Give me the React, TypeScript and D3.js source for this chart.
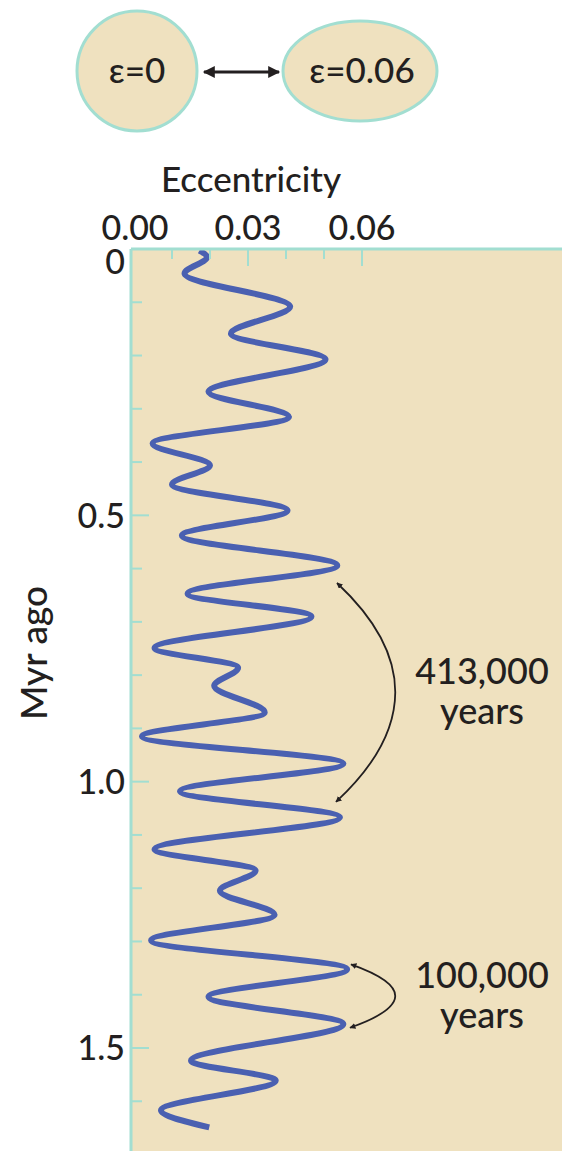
import React from 'react';
import * as d3 from 'd3';

// turning points of the eccentricity curve
const ageMyr = [
  0.003, 0.015, 0.046, 0.108, 0.159, 0.207, 0.268, 0.315, 0.365, 0.406,
  0.442, 0.491, 0.538, 0.594, 0.647, 0.69, 0.749, 0.786, 0.82, 0.87,
  0.915, 0.966, 1.018, 1.067, 1.127, 1.167, 1.205, 1.25, 1.298, 1.352,
  1.404, 1.455, 1.524, 1.561, 1.617, 1.649,
];
const eccentricity = [
  0.0172, 0.0192, 0.0133, 0.0411, 0.0255, 0.0504, 0.0196, 0.0408, 0.0049, 0.02,
  0.01, 0.0404, 0.0126, 0.0535, 0.0141, 0.0467, 0.0054, 0.0274, 0.0211, 0.0344,
  0.0021, 0.0551, 0.0121, 0.0542, 0.0054, 0.032, 0.0226, 0.037, 0.0045, 0.0561,
  0.0196, 0.0551, 0.015, 0.0373, 0.0071, 0.0198,
];

const xTicks = [0.01, 0.02, 0.03, 0.04, 0.05, 0.06];
const xLabels = ['0.00', '0.03', '0.06'];
const yTicks = [0.1, 0.2, 0.3, 0.4, 0.5, 0.6, 0.7, 0.8, 0.9, 1.0, 1.1, 1.2, 1.3, 1.4, 1.5, 1.6];
const yLabels = ['0', '0.5', '1.0', '1.5'];

// annotated cycles: [from age, to age, label]
const cycles: [number, number, string][] = [
  [0.627, 1.038, '413,000'],
  [1.343, 1.462, '100,000'],
];

const W = 562, H = 1151;
const FONT = 'Lato, "Open Sans", sans-serif';
const INK = '#231f20';
const TEAL = '#a2ded1';
const SAND = '#efe1bf';
const BLUE = '#4a60b1';

export default function App() {
  const x = d3.scaleLinear().domain([0, 0.06]).range([134, 362]);
  const y = d3.scaleLinear().domain([0, 1.5]).range([249, 1048]);
  const left = 131, top = 249;

  const pts = ageMyr.map((a, i) => [eccentricity[i], a] as [number, number]);
  const line = d3.line<[number, number]>()
    .x(d => x(d[0]))
    .y(d => y(d[1]))
    .curve(d3.curveMonotoneY);

  const major = (v: number) => Math.abs(v * 2 - Math.round(v * 2)) < 1e-6;

  return (
    <svg width={W} height={H} style={{ position: 'absolute', left: 0, top: 0 }} fontFamily={FONT} fontWeight={500}>
      <defs>
        <marker id="ah" viewBox="0 0 10 10" refX="9" refY="5" markerWidth="6" markerHeight="6" orient="auto-start-reverse" markerUnits="userSpaceOnUse">
          <path d="M0,0 L10,5 L0,10 z" fill={INK} />
        </marker>
        <marker id="big" viewBox="0 0 10 10" refX="9" refY="5" markerWidth="14" markerHeight="12" orient="auto-start-reverse" markerUnits="userSpaceOnUse">
          <path d="M0,0 L10,5 L0,10 z" fill={INK} />
        </marker>
      </defs>

      {/* orbit shapes */}
      <circle cx={137} cy={71} r={60} fill={SAND} stroke={TEAL} strokeWidth={3} />
      <ellipse cx={360} cy={71} rx={77} ry={50} fill={SAND} stroke={TEAL} strokeWidth={3} />
      <text x={137} y={83} textAnchor="middle" fontSize={35} fill={INK}>ε=0</text>
      <text x={362} y={83} textAnchor="middle" fontSize={35} fill={INK}>ε=0.06</text>
      <line x1={204} x2={279} y1={72} y2={72} stroke={INK} strokeWidth={3}
        markerStart="url(#big)" markerEnd="url(#big)" />

      {/* plot background */}
      <rect x={left} y={top} width={W - left} height={H - top} fill={SAND} />

      {/* curve */}
      <path d={line(pts) || ''} fill="none" stroke={BLUE} strokeWidth={6} />

      {/* axes */}
      <line x1={left} x2={W} y1={top} y2={top} stroke={TEAL} strokeWidth={3} />
      <line x1={left} x2={left} y1={top} y2={H} stroke={TEAL} strokeWidth={3} />
      {xTicks.map(t => (
        <line key={'xt' + t} x1={x(t)} x2={x(t)} y1={top} y2={top + (Math.abs(t - 0.03) < 1e-6 || Math.abs(t - 0.06) < 1e-6 ? 17 : 10)}
          stroke={TEAL} strokeWidth={2} />
      ))}
      {yTicks.map(t => (
        <line key={'yt' + t} x1={left} x2={left + (major(t) ? 18 : 11)} y1={y(t)} y2={y(t)}
          stroke={TEAL} strokeWidth={2} />
      ))}

      {xLabels.map(l => (
        <text key={'xl' + l} x={+l === 0 ? 135 : x(+l)} y={240} textAnchor="middle" fontSize={34} fill={INK}>{l}</text>
      ))}
      {yLabels.map(l => (
        <text key={'yl' + l} x={125} y={+l === 0 ? y(0) + 13 : y(+l)} dy="0.36em" textAnchor="end" fontSize={34} fill={INK}>{l}</text>
      ))}

      <text x={251} y={192} textAnchor="middle" fontSize={35} fill={INK}>Eccentricity</text>
      <text transform="translate(47,653) rotate(-90)" textAnchor="middle" fontSize={37} fill={INK}>Myr ago</text>

      {/* cycle annotations */}
      {cycles.map(([a0, a1, lab], i) => {
        const y0 = y(a0), y1 = y(a1);
        const xs = i === 0 ? 337 : 351;
        const bulge = i === 0 ? 454 : 440;
        const ym = (y0 + y1) / 2;
        return (
          <g key={lab}>
            <path d={`M${xs},${y0} Q${bulge},${ym} ${xs - 1},${y1}`} fill="none" stroke={INK} strokeWidth={1.8}
              markerStart="url(#ah)" markerEnd="url(#ah)" />
            <text x={482} y={ym - 8} textAnchor="middle" fontSize={36} fill={INK}>{lab}</text>
            <text x={482} y={ym + 32} textAnchor="middle" fontSize={36} fill={INK}>years</text>
          </g>
        );
      })}
    </svg>
  );
}
